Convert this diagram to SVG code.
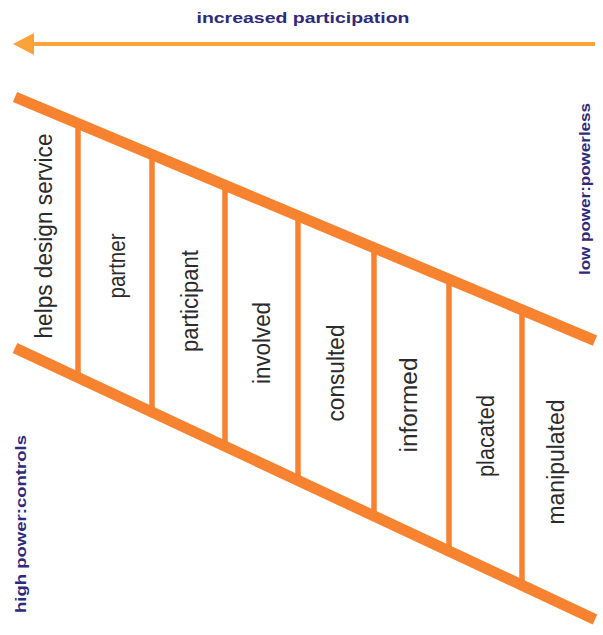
<svg xmlns="http://www.w3.org/2000/svg" width="603" height="635" viewBox="0 0 603 635">
<defs>
<style>
.rail{stroke:#F7822F;stroke-width:11;stroke-linecap:butt;fill:none}
.rung{stroke:#F7822F;stroke-width:5.5;fill:none}
.arrow{stroke:#FBA23A;stroke-width:4;fill:none}
.lbl{font-family:"Liberation Sans",Arial,sans-serif;font-size:23px;fill:#2b2b2b;text-anchor:middle}
.side{font-family:"Liberation Sans",Arial,sans-serif;font-size:15px;font-weight:bold;fill:#2E2B7C;text-anchor:middle}
</style>
</defs>
<rect width="603" height="635" fill="#ffffff"/>
<g id="title">
<text class="side" x="303" y="23" font-size="17" textLength="213" lengthAdjust="spacingAndGlyphs">increased participation</text>
</g>
<g id="connectors">
<line class="arrow" x1="30" y1="44" x2="595" y2="44"/>
<polygon points="13,44 34,33 34,55" fill="#FBA23A"/>
<line class="rail" x1="15" y1="97" x2="595" y2="340.6"/>
<line class="rail" x1="15" y1="348" x2="595" y2="619.4"/>
<line class="rung" x1="78" y1="122" x2="78" y2="379"/>
<line class="rung" x1="152" y1="153" x2="152" y2="414"/>
<line class="rung" x1="225" y1="184" x2="225" y2="448"/>
<line class="rung" x1="298" y1="214" x2="298" y2="482"/>
<line class="rung" x1="374" y1="246" x2="374" y2="518"/>
<line class="rung" x1="449" y1="278" x2="449" y2="553"/>
<line class="rung" x1="522" y1="308" x2="522" y2="587"/>
</g>
<g id="n-helps"><text class="lbl" transform="translate(52,236) rotate(-90)" textLength="205" lengthAdjust="spacingAndGlyphs">helps design service</text></g>
<g id="n-partner"><text class="lbl" transform="translate(125,266) rotate(-90)" textLength="65" lengthAdjust="spacingAndGlyphs">partner</text></g>
<g id="n-participant"><text class="lbl" transform="translate(198,301) rotate(-90)" textLength="102" lengthAdjust="spacingAndGlyphs">participant</text></g>
<g id="n-involved"><text class="lbl" transform="translate(270,343) rotate(-90)" textLength="82" lengthAdjust="spacingAndGlyphs">involved</text></g>
<g id="n-consulted"><text class="lbl" transform="translate(344,373) rotate(-90)" textLength="97" lengthAdjust="spacingAndGlyphs">consulted</text></g>
<g id="n-informed"><text class="lbl" transform="translate(417,405) rotate(-90)" textLength="95" lengthAdjust="spacingAndGlyphs">informed</text></g>
<g id="n-placated"><text class="lbl" transform="translate(494,436) rotate(-90)" textLength="82" lengthAdjust="spacingAndGlyphs">placated</text></g>
<g id="n-manipulated"><text class="lbl" transform="translate(564,462) rotate(-90)" textLength="125" lengthAdjust="spacingAndGlyphs">manipulated</text></g>
<g id="n-low"><text class="side" transform="translate(590,189) rotate(-90)" textLength="172" lengthAdjust="spacingAndGlyphs">low power:powerless</text></g>
<g id="n-high"><text class="side" transform="translate(26,524) rotate(-90)" textLength="178" lengthAdjust="spacingAndGlyphs">high power:controls</text></g>
</svg>
